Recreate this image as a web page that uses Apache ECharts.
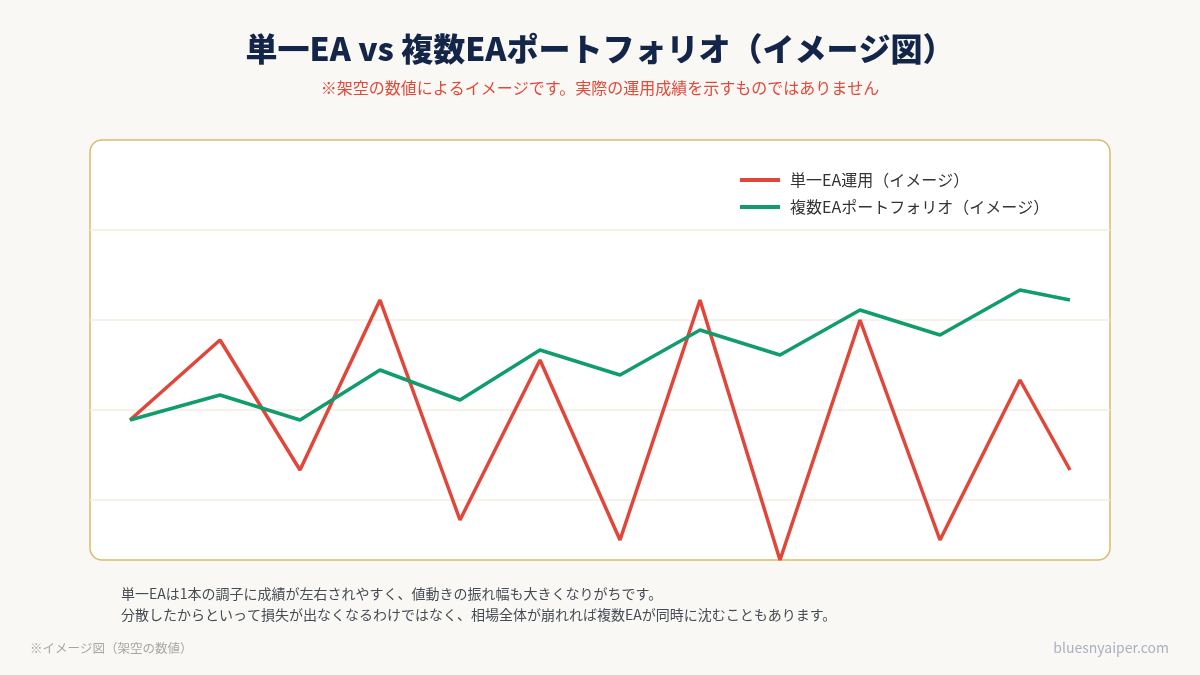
<!DOCTYPE html>
<html>
<head>
<meta charset="utf-8">
<script src="https://cdn.jsdelivr.net/npm/echarts@6/dist/echarts.min.js"></script>
<style>
  html, body { margin: 0; padding: 0; background: #faf8f4; }
  #main { width: 1200px; height: 675px; }
</style>
</head>
<body>
<div id="main"></div>
<script>
// 期間（横軸の位置）
const periods = [0, 9, 17, 25, 33, 41, 49, 57, 65, 73, 81, 89, 94];
// 単一EA運用（イメージ）
const singleEA = [100, 108, 95, 112, 90, 106, 88, 112, 86, 110, 88, 104, 95];
// 複数EAポートフォリオ（イメージ）
const multiEA = [100, 102.5, 100, 105, 102, 107, 104.5, 109, 106.5, 111, 108.5, 113, 112];
const seriesNames = ['単一EA運用（イメージ）', '複数EAポートフォリオ（イメージ）'];

const font = '"Noto Sans CJK JP", "Noto Sans", sans-serif';

const chart = echarts.init(document.getElementById('main'));

const option = {
  backgroundColor: '#faf8f4',
  textStyle: { fontFamily: font },
  animation: false,
  graphic: [
    {
      type: 'rect', z: -10,
      shape: { x: 90, y: 140, width: 1020, height: 420, r: 12 },
      style: { fill: '#ffffff', stroke: '#d8bc6c', lineWidth: 1.5 }
    },
    {
      type: 'text', left: 'center', top: 33,
      style: { text: '単一EA vs 複数EAポートフォリオ（イメージ図）', font: '900 32px ' + font, fill: '#14254a' }
    },
    {
      type: 'text', left: 'center', top: 80,
      style: { text: '※架空の数値によるイメージです。実際の運用成績を示すものではありません', font: '16px ' + font, fill: '#e04a3a' }
    },
    {
      type: 'text', left: 121, top: 587,
      style: { text: '単一EAは1本の調子に成績が左右されやすく、値動きの振れ幅も大きくなりがちです。', font: '14px ' + font, fill: '#454c55' }
    },
    {
      type: 'text', left: 121, top: 608,
      style: { text: '分散したからといって損失が出なくなるわけではなく、相場全体が崩れれば複数EAが同時に沈むこともあります。', font: '14px ' + font, fill: '#454c55' }
    },
    {
      type: 'text', left: 30, top: 642,
      style: { text: '※イメージ図（架空の数値）', font: '12.5px ' + font, fill: '#a6a6a6' }
    },
    {
      type: 'text', right: 31, top: 641,
      style: { text: 'bluesnyaiper.com', font: '14px ' + font, fill: '#a9b1c2' }
    }
  ],
  legend: {
    orient: 'vertical',
    left: 740,
    top: 172,
    padding: 0,
    icon: 'rect',
    itemWidth: 40,
    itemHeight: 4,
    itemGap: 11,
    textStyle: { fontSize: 16, color: '#333', padding: [0, 0, 0, 5] },
    data: seriesNames
  },
  grid: { left: 90, right: 90, top: 140, bottom: 85 },
  xAxis: {
    type: 'value',
    min: -4,
    max: 98,
    show: false
  },
  yAxis: {
    type: 'value',
    min: 83,
    max: 128,
    interval: 9,
    axisLine: { show: false },
    axisTick: { show: false },
    axisLabel: { show: false },
    splitLine: {
      show: true,
      showMinLine: false,
      showMaxLine: false,
      lineStyle: { color: '#f3eee1', width: 1.5 }
    }
  },
  series: [
    {
      name: seriesNames[0],
      type: 'line',
      data: periods.map((p, i) => [p, singleEA[i]]),
      showSymbol: false,
      color: '#e0463a',
      lineStyle: { width: 3.5, color: '#e0463a' },
      z: 2
    },
    {
      name: seriesNames[1],
      type: 'line',
      data: periods.map((p, i) => [p, multiEA[i]]),
      showSymbol: false,
      color: '#119c6c',
      lineStyle: { width: 3.5, color: '#119c6c' },
      z: 3
    }
  ]
};

chart.setOption(option);
</script>
</body>
</html>
